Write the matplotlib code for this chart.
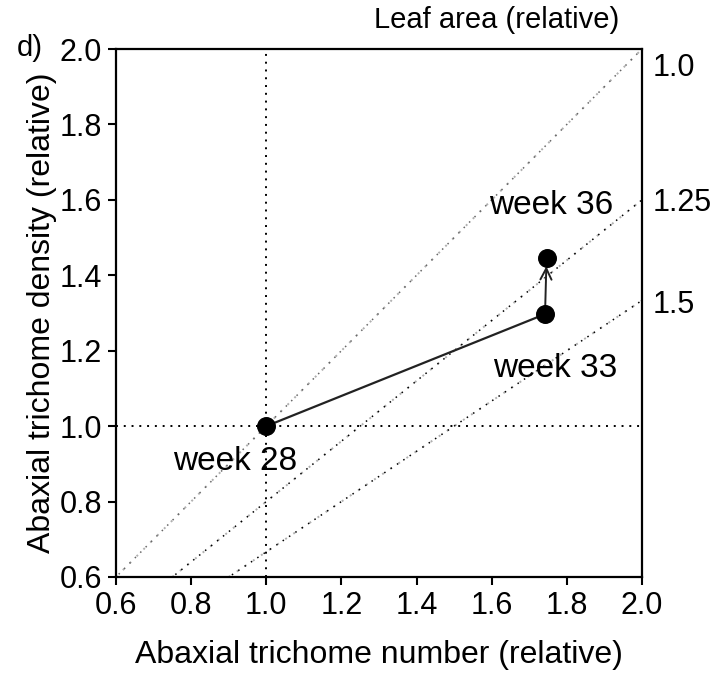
import matplotlib
matplotlib.use("Agg")
import matplotlib.pyplot as plt
import numpy as np

plt.rcParams['font.family'] = ["Liberation Sans", 'DejaVu Sans']

# Data
weeks = ["week 28", "week 33", "week 36"]
trichome_number = [1.0, 1.742, 1.746]
trichome_density = [1.0, 1.297, 1.446]
leaf_area_levels = [1.0, 1.25, 1.5]
leaf_area_labels = ["1.0", "1.25", "1.5"]
ticks = [0.6, 0.8, 1.0, 1.2, 1.4, 1.6, 1.8, 2.0]

fig = plt.figure(figsize=(7.24, 6.75), dpi=100)
ax = fig.add_axes([0.1602, 0.1452, 0.7265, 0.7822])
ax.set_xlim(0.6, 2.0)
ax.set_ylim(0.6, 2.0)

fs_tick = 22
fs_lab = 23
fs_week = 24

# Leaf area isolines: density = number / leaf area
for la in leaf_area_levels:
    x0 = max(0.6, 0.6 * la)
    xs = np.array([x0, 2.0])
    ys = xs / la
    ax.plot(xs, ys, linestyle=(0, (1, 4)), color="#b0b0b0", lw=1.4, zorder=1)
    ax.plot(xs, ys, linestyle=(2.5, (1, 4)), color="black" if la != 1.0 else "#666666",
            lw=1.1, zorder=1)

ax.axvline(1.0, color="black", linestyle=(0, (1, 3)), lw=1.4, zorder=1)
ax.axhline(1.0, color="black", linestyle=(0, (1, 3)), lw=1.4, zorder=1)

# Trajectory
ax.plot(trichome_number[:2], trichome_density[:2], color="#222222", lw=1.6, zorder=2)
ax.annotate("", xy=(trichome_number[2], trichome_density[2]),
            xytext=(trichome_number[1], trichome_density[1]),
            arrowprops=dict(arrowstyle="->", color="#222222", lw=1.4,
                            shrinkA=0, shrinkB=6, mutation_scale=20), zorder=2)
ax.scatter(trichome_number, trichome_density, s=160, color="black", zorder=3)

label_pos = [(0.917, 0.905), (1.768, 1.154), (1.758, 1.586)]
for w, (lx, ly) in zip(weeks, label_pos):
    ax.text(lx, ly, w, fontsize=fs_week, ha="center", va="center")

# Right-side leaf area labels
right_y = [1.95, 1.592, 1.321]
for lab, ry in zip(leaf_area_labels, right_y):
    ax.text(1.02, ry, lab, fontsize=fs_tick, ha="left", va="center",
            transform=ax.get_yaxis_transform(), clip_on=False)
fig.text(0.6865, 0.970, "Leaf area (relative)", fontsize=fs_lab - 2, ha="center", va="center")
fig.text(0.0235, 0.929, "d)", fontsize=fs_lab - 2, ha="left", va="center")

ax.set_xticks(ticks)
ax.set_yticks(ticks)
ax.set_xticklabels([f"{t:.1f}" for t in ticks])
ax.set_yticklabels([f"{t:.1f}" for t in ticks])
ax.tick_params(direction="out", length=6, width=1.5, labelsize=fs_tick, pad=4)
for s in ax.spines.values():
    s.set_linewidth(1.6)
ax.set_xlabel("Abaxial trichome number (relative)", fontsize=fs_lab, labelpad=14)
ax.set_ylabel("Abaxial trichome density (relative)", fontsize=fs_lab, labelpad=2)

fig.savefig("out.png", dpi=100)
